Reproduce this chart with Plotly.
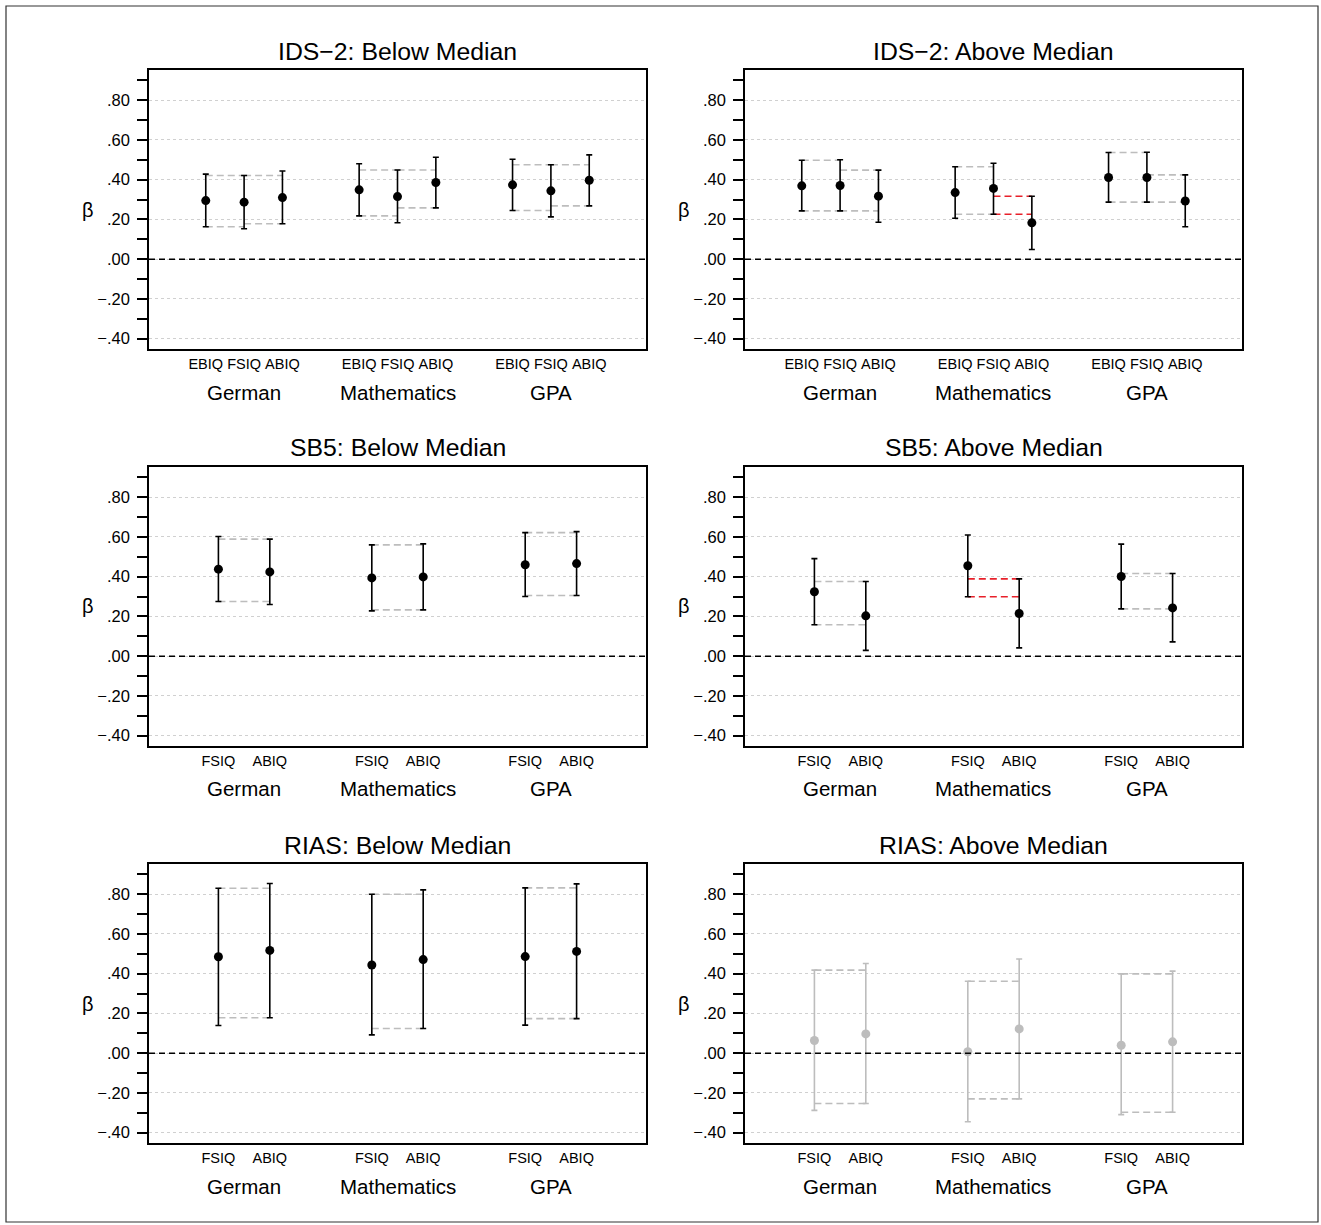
import plotly.graph_objects as go

# ---------------- data ----------------
groups = ["German", "Mathematics", "GPA"]
group_pos = [2, 6, 10]
ids_measures = ["EBIQ", "FSIQ", "ABIQ"]
two_measures = ["FSIQ", "ABIQ"]

panel_titles = ["IDS\u22122: Below Median", "IDS\u22122: Above Median",
                "SB5: Below Median", "SB5: Above Median",
                "RIAS: Below Median", "RIAS: Above Median"]

# beta, lower CI, upper CI  (rows = German, Mathematics, GPA)
ids2_below_beta = [[0.295, 0.287, 0.310], [0.349, 0.315, 0.386], [0.374, 0.344, 0.397]]
ids2_below_lo = [[0.163, 0.153, 0.178], [0.218, 0.183, 0.258], [0.245, 0.213, 0.268]]
ids2_below_hi = [[0.428, 0.421, 0.444], [0.480, 0.449, 0.513], [0.503, 0.475, 0.525]]
ids2_below_sig = [[False, False], [False, False], [False, False]]

ids2_above_beta = [[0.369, 0.371, 0.317], [0.335, 0.356, 0.183], [0.411, 0.411, 0.293]]
ids2_above_lo = [[0.243, 0.243, 0.186], [0.206, 0.226, 0.049], [0.287, 0.287, 0.163]]
ids2_above_hi = [[0.498, 0.500, 0.448], [0.465, 0.483, 0.317], [0.537, 0.538, 0.424]]
ids2_above_sig = [[False, False], [False, True], [False, False]]

sb5_below_beta = [[0.438, 0.424], [0.394, 0.399], [0.460, 0.466]]
sb5_below_lo = [[0.275, 0.260], [0.228, 0.233], [0.300, 0.305]]
sb5_below_hi = [[0.602, 0.589], [0.560, 0.565], [0.622, 0.627]]
sb5_below_sig = [[False], [False], [False]]

sb5_above_beta = [[0.324, 0.203], [0.455, 0.215], [0.401, 0.243]]
sb5_above_lo = [[0.158, 0.029], [0.299, 0.042], [0.238, 0.072]]
sb5_above_hi = [[0.491, 0.376], [0.610, 0.389], [0.564, 0.416]]
sb5_above_sig = [[False], [True], [False]]

rias_below_beta = [[0.485, 0.517], [0.444, 0.471], [0.486, 0.512]]
rias_below_lo = [[0.139, 0.178], [0.092, 0.124], [0.141, 0.174]]
rias_below_hi = [[0.830, 0.854], [0.800, 0.822], [0.832, 0.852]]
rias_below_sig = [[False], [False], [False]]

rias_above_beta = [[0.064, 0.097], [0.007, 0.122], [0.040, 0.057]]
rias_above_lo = [[-0.288, -0.253], [-0.345, -0.230], [-0.309, -0.297]]
rias_above_hi = [[0.418, 0.451], [0.362, 0.474], [0.399, 0.413]]
rias_above_sig = [[False], [False], [False]]

y_tickvals = [-0.4, -0.2, 0.0, 0.2, 0.4, 0.6, 0.8]
y_ticktext = ["\u2212.40", "\u2212.20", ".00", ".20", ".40", ".60", ".80"]

panels = [
    (ids_measures, ids2_below_beta, ids2_below_lo, ids2_below_hi, ids2_below_sig),
    (ids_measures, ids2_above_beta, ids2_above_lo, ids2_above_hi, ids2_above_sig),
    (two_measures, sb5_below_beta, sb5_below_lo, sb5_below_hi, sb5_below_sig),
    (two_measures, sb5_above_beta, sb5_above_lo, sb5_above_hi, sb5_above_sig),
    (two_measures, rias_below_beta, rias_below_lo, rias_below_hi, rias_below_sig),
    (two_measures, rias_above_beta, rias_above_lo, rias_above_hi, rias_above_sig),
]

# ---------------- layout helpers ----------------
W, H = 1321, 1225
col_px = [(149, 646), (745, 1242)]
row_px = [(70, 349), (467, 746), (864, 1143)]
FONT = "Liberation Sans, Arial, Helvetica, sans-serif"
BLACK = "#000000"
GRAY = "#bdbdbd"
RED = "#e8202a"


def px_x(p):
    return p / W


def px_y(p):
    return 1 - p / H


fig = go.Figure()
layout = dict(width=W, height=H, margin=dict(l=0, r=0, t=0, b=0),
              paper_bgcolor="white", plot_bgcolor="white", showlegend=False,
              font=dict(family=FONT, color=BLACK))
annotations = []
shapes = []

for i, (measures, beta, lo, hi, sig) in enumerate(panels):
    r, c = divmod(i, 2)
    ax = "" if i == 0 else str(i + 1)
    xa, ya = "x" + ax, "y" + ax
    x0p, x1p = col_px[c]
    y0p, y1p = row_px[r]
    n = len(measures)
    offsets = [-1, 0, 1] if n == 3 else [-0.67, 0.67]

    tickvals, ticktext = [], []
    for g, gp in enumerate(group_pos):
        xs = [gp + o for o in offsets]
        tickvals += xs
        ticktext += measures
        # overlap (dashed) lines between adjacent intervals
        for k in range(n - 1):
            top = min(hi[g][k], hi[g][k + 1])
            bot = max(lo[g][k], lo[g][k + 1])
            col = RED if sig[g][k] else GRAY
            for yv in (top, bot):
                fig.add_trace(go.Scatter(
                    x=[xs[k], xs[k + 1]], y=[yv, yv], mode="lines",
                    line=dict(color=col, width=1.6, dash="7px,4px"),
                    xaxis=xa, yaxis=ya, hoverinfo="skip"))
        # points with CI
        for k in range(n):
            col = GRAY if lo[g][k] < 0 else BLACK
            fig.add_trace(go.Scatter(
                x=[xs[k]], y=[beta[g][k]], mode="markers",
                marker=dict(color=col, size=9),
                error_y=dict(type="data", symmetric=False,
                             array=[hi[g][k] - beta[g][k]],
                             arrayminus=[beta[g][k] - lo[g][k]],
                             color=col, thickness=1.6, width=3),
                xaxis=xa, yaxis=ya))
        annotations.append(dict(
            x=gp, y=px_y(y1p + 43), xref=xa, yref="paper",
            text=groups[g], showarrow=False, font=dict(size=20.5),
            xanchor="center", yanchor="middle"))

    layout["xaxis" + ax] = dict(
        domain=[px_x(x0p), px_x(x1p)], anchor=ya, range=[-0.48, 12.48],
        showline=True, mirror=True, linecolor=BLACK, linewidth=1.5,
        showgrid=False, zeroline=False, ticks="",
        tickmode="array", tickvals=tickvals, ticktext=ticktext,
        tickfont=dict(size=14.5), ticklabelstandoff=1)
    layout["yaxis" + ax] = dict(
        domain=[px_y(y1p), px_y(y0p)], anchor=xa, range=[-0.452, 0.952],
        showline=True, mirror=True, linecolor=BLACK, linewidth=1.5,
        zeroline=False, tickmode="array", tickvals=y_tickvals, ticktext=y_ticktext,
        ticks="outside", ticklen=10, tickwidth=1.5, tickcolor=BLACK,
        tickfont=dict(size=16.5), ticklabelstandoff=4,
        showgrid=True, gridcolor="#d0d0d0", gridwidth=1, griddash="dot",
        minor=dict(tickvals=[-0.3, -0.1, 0.1, 0.3, 0.5, 0.7, 0.9],
                   ticks="outside", ticklen=10, tickwidth=1.5,
                   tickcolor=BLACK, showgrid=False))
    # zero reference line
    shapes.append(dict(type="line", xref=xa + " domain", yref=ya,
                       x0=0, x1=1, y0=0, y1=0,
                       line=dict(color=BLACK, width=1.5, dash="6px,4px")))
    # panel title
    annotations.append(dict(
        x=px_x((x0p + x1p) / 2), y=px_y(y0p - 19), xref="paper", yref="paper",
        text=panel_titles[i], showarrow=False, font=dict(size=24.8),
        xanchor="center", yanchor="middle"))
    # beta label
    annotations.append(dict(
        x=px_x(88 + 596 * c), y=px_y((y0p + y1p) / 2),
        xref="paper", yref="paper", text="\u03b2", showarrow=False,
        font=dict(size=20), xanchor="center", yanchor="middle"))

# outer frame
shapes.append(dict(type="rect", xref="paper", yref="paper",
                   x0=px_x(6), x1=px_x(1318), y0=px_y(1222), y1=px_y(6),
                   line=dict(color="#333333", width=1.2)))

layout["annotations"] = annotations
layout["shapes"] = shapes
fig.update_layout(**layout)
fig.write_html("out.html",
               config={"displayModeBar": False},
               post_script="document.body.style.margin='0';"
                           "document.body.style.overflow='hidden';")
